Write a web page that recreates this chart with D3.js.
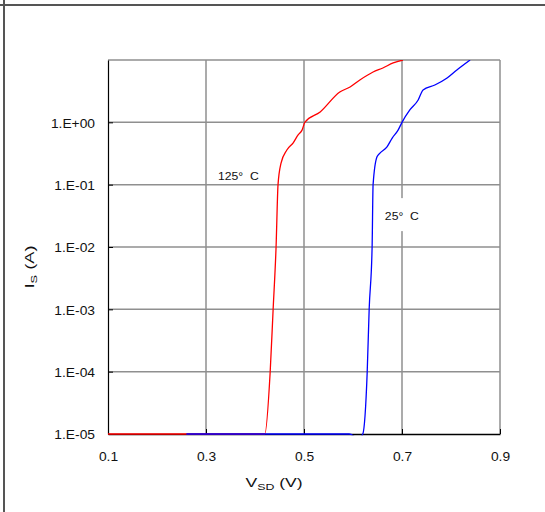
<!DOCTYPE html>
<html>
<head>
<meta charset="utf-8">
<script src="https://cdn.jsdelivr.net/npm/d3@7"></script>
<style>
  body { margin: 0; background: #fff; }
  svg text { font-family: "Liberation Sans", Arial, sans-serif; fill: #111; white-space: pre; }
</style>
</head>
<body>
<svg id="chart" width="545" height="512"></svg>
<script>
// forward diode characteristic, Is vs Vsd
const x_ticks = [0.1, 0.3, 0.5, 0.7, 0.9];
const y_ticks = [1e-5, 1e-4, 1e-3, 1e-2, 1e-1, 1e0, 1e1];
const y_labelled = [1e-5, 1e-4, 1e-3, 1e-2, 1e-1, 1e0];

const hot_v = [0.1, 0.42, 0.431, 0.437, 0.443, 0.447, 0.453, 0.465, 0.478, 0.488, 0.496, 0.502, 0.533, 0.573, 0.594, 0.614, 0.641, 0.661, 0.682, 0.702];
const hot_i = [1e-5, 1e-5, 1e-4, 1e-3, 1e-2, 1e-1, 0.22, 0.36, 0.47, 0.63, 0.75, 1.01, 1.47, 3.07, 3.69, 4.78, 6.42, 7.45, 8.97, 10];

const room_v = [0.26, 0.592, 0.612, 0.62, 0.629, 0.633, 0.639, 0.641, 0.649, 0.655, 0.669, 0.68, 0.692, 0.70, 0.716, 0.733, 0.743, 0.767, 0.792, 0.812, 0.839];
const room_i = [1e-5, 1e-5, 8.5e-6, 1e-5, 1e-4, 1e-3, 1e-2, 1e-1, 0.28, 0.32, 0.40, 0.56, 0.75, 1.0, 1.58, 2.28, 3.31, 3.97, 5.15, 6.92, 10];

const series_names = ["125°  C", "25°  C"];
const series_colors = ["#ff0000", "#0000ff"];
const label_at = [[0.3245, 0.119], [0.665, 0.027]];

const svg = d3.select("#chart");
const margin = {left: 108, right: 45, top: 60, bottom: 78};
const width = 545, height = 512;

const x = d3.scaleLinear().domain([0.1, 0.9]).range([margin.left, width - margin.right]);
const y = d3.scaleLog().domain([1e-5, 10]).range([height - margin.bottom, margin.top]);

// page frame lines
svg.append("line").attr("x1", 0).attr("x2", width).attr("y1", 5).attr("y2", 5)
  .attr("stroke", "#555").attr("stroke-width", 2);
svg.append("line").attr("x1", 4).attr("x2", 4).attr("y1", 0).attr("y2", height)
  .attr("stroke", "#555").attr("stroke-width", 2);

// grid
const grid = svg.append("g").attr("stroke", "#8f8f8f").attr("stroke-width", 1.5);
grid.selectAll(".gx").data(x_ticks.slice(1)).join("line")
  .attr("x1", d => x(d)).attr("x2", d => x(d))
  .attr("y1", y.range()[1]).attr("y2", y.range()[0]);
grid.selectAll(".gy").data(y_ticks.slice(1)).join("line")
  .attr("y1", d => y(d)).attr("y2", d => y(d))
  .attr("x1", x.range()[0]).attr("x2", x.range()[1]);

const expFmt = d => {
  const e = Math.round(Math.log10(d));
  return "1.E" + (e < 0 ? "-" : "+") + String(Math.abs(e)).padStart(2, "0");
};

svg.append("g")
  .attr("transform", `translate(${margin.left},0)`)
  .call(d3.axisLeft(y).tickValues(y_labelled).tickFormat(expFmt).tickSizeInner(-5).tickSizeOuter(0))
  .call(g => g.select(".domain").attr("stroke", "#000").attr("stroke-width", 1.2))
  .call(g => g.selectAll(".tick line").attr("stroke", "#000"))
  .call(g => g.selectAll(".tick text")
    .attr("x", null).attr("dy", "0.4em")
    .attr("transform", "translate(-13,0) scale(1.15,1)")
    .attr("font-size", 12).attr("fill", "#111"));

svg.append("g")
  .attr("transform", `translate(0,${height - margin.bottom})`)
  .call(d3.axisBottom(x).tickValues(x_ticks).tickFormat(d3.format(".1f")).tickSizeInner(-5).tickSizeOuter(0))
  .call(g => g.select(".domain").attr("stroke", "#000").attr("stroke-width", 1.5))
  .call(g => g.selectAll(".tick line").attr("stroke", "#000"))
  .call(g => g.selectAll(".tick text")
    .attr("y", null).attr("dy", null)
    .attr("transform", "translate(0,27) scale(1.15,1)")
    .attr("font-size", 12).attr("fill", "#111"));

// curves, clipped to the plot area (a little slack at the bottom so the flat part shows)
svg.append("clipPath").attr("id", "plotclip").append("rect")
  .attr("x", margin.left).attr("y", margin.top)
  .attr("width", x.range()[1] - margin.left).attr("height", y.range()[0] - margin.top + 1.2);

const line = d3.line().curve(d3.curveMonotoneX).x(d => x(d[0])).y(d => y(d[1]));
const curves = [d3.zip(hot_v, hot_i), d3.zip(room_v, room_i)];

svg.append("g").attr("clip-path", "url(#plotclip)")
  .selectAll("path").data(curves).join("path")
  .attr("fill", "none")
  .attr("stroke", (d, i) => series_colors[i])
  .attr("stroke-width", 1.3)
  .attr("stroke-linejoin", "round")
  .attr("d", line);

// curve labels
const notes = svg.append("g");
label_at.forEach((p, i) => {
  const px = x(p[0]), py = y(p[1]);
  if (i === 1) {
    notes.append("rect").attr("x", px - 3).attr("y", py - 22)
      .attr("width", 44).attr("height", 33).attr("fill", "#fff");
  }
  notes.append("text")
    .attr("transform", `translate(${px},${py}) scale(1.22,1)`)
    .attr("font-size", 10)
    .text(series_names[i]);
});

// axis titles
const xt = svg.append("text")
  .attr("text-anchor", "middle")
  .attr("transform", `translate(${(x.range()[0] + x.range()[1]) / 2 - 30},487) scale(1.3,1)`)
  .attr("font-size", 13.5);
xt.append("tspan").text("V");
xt.append("tspan").attr("font-size", 9.5).attr("dy", 3).text("SD");
xt.append("tspan").attr("dy", -3).text(" (V)");

const yt = svg.append("text")
  .attr("text-anchor", "middle")
  .attr("transform", `translate(34,${(y.range()[0] + y.range()[1]) / 2 + 20}) rotate(-90) scale(1.35,1)`)
  .attr("font-size", 13.5);
yt.append("tspan").text("I");
yt.append("tspan").attr("font-size", 9.5).attr("dy", 3).text("S");
yt.append("tspan").attr("dy", -3).text(" (A)");
</script>
</body>
</html>
